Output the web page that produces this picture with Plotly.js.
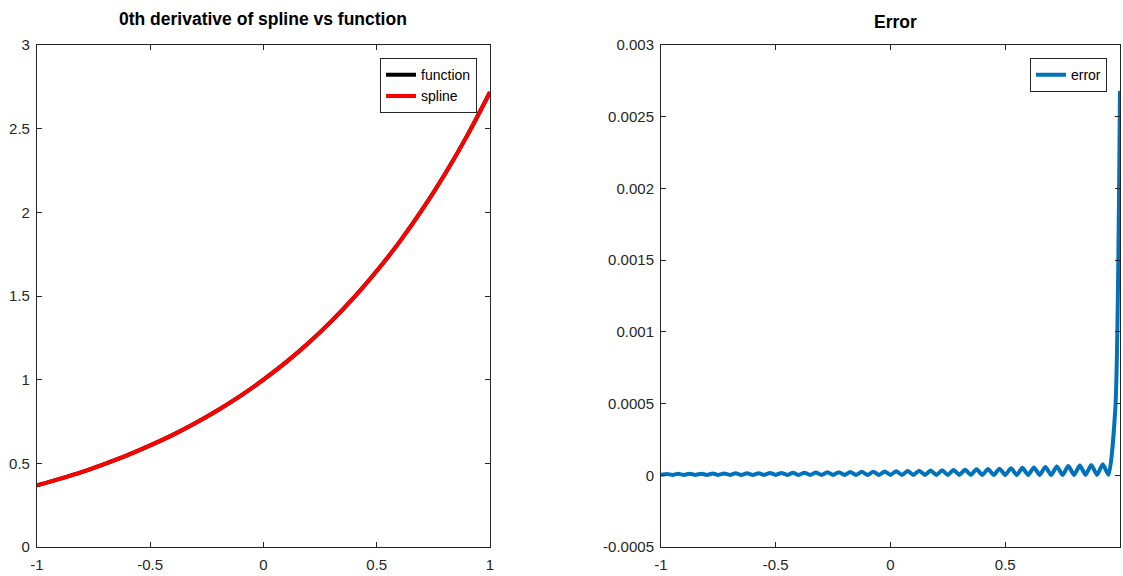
<!DOCTYPE html>
<html>
<head>
<meta charset="utf-8">
<script src="https://cdn.plot.ly/plotly-3.0.1.min.js"></script>
<style>html,body{margin:0;padding:0;background:#fff;}#chart{width:1123px;height:576px;}</style>
</head>
<body>
<div id="chart"></div>
<script>
// Left panel: function and spline (0th derivative)
const xFn = [-1,-0.9,-0.8,-0.7,-0.6,-0.5,-0.4,-0.3,-0.2,-0.1,0,0.1,0.2,0.3,0.4,0.5,0.6,0.7,0.8,0.9,1];
const yFunction = [0.368,0.407,0.449,0.497,0.549,0.607,0.670,0.741,0.819,0.905,1.000,1.105,1.221,1.350,1.492,1.649,1.822,2.014,2.226,2.460,2.718];
const ySpline = [0.368,0.407,0.449,0.497,0.549,0.607,0.670,0.741,0.819,0.905,1.000,1.105,1.221,1.350,1.492,1.649,1.822,2.014,2.226,2.460,2.718];

// Right panel: error
const xErr = [-1,-0.975,-0.95,-0.925,-0.9,-0.875,-0.85,-0.825,-0.8,-0.775,-0.75,-0.725,-0.7,-0.675,-0.65,-0.625,-0.6,-0.575,-0.55,-0.525,-0.5,-0.475,-0.45,-0.425,-0.4,-0.375,-0.35,-0.325,-0.3,-0.275,-0.25,-0.225,-0.2,-0.175,-0.15,-0.125,-0.1,-0.075,-0.05,-0.025,0,0.025,0.05,0.075,0.1,0.125,0.15,0.175,0.2,0.225,0.25,0.275,0.3,0.325,0.35,0.375,0.4,0.425,0.45,0.475,0.5,0.525,0.55,0.575,0.6,0.625,0.65,0.675,0.7,0.725,0.75,0.775,0.8,0.825,0.85,0.875,0.9,0.925,0.95,0.98,1];
const yErr = [3e-6,1.0e-5,3e-6,1.05e-5,3e-6,1.1e-5,3e-6,1.15e-5,3e-6,1.2e-5,3e-6,1.3e-5,3e-6,1.35e-5,3e-6,1.4e-5,3e-6,1.5e-5,3e-6,1.6e-5,3e-6,1.65e-5,3e-6,1.75e-5,3e-6,1.85e-5,3e-6,1.95e-5,3e-6,2.05e-5,3e-6,2.15e-5,3e-6,2.3e-5,3e-6,2.4e-5,3e-6,2.55e-5,3e-6,2.7e-5,3e-6,2.85e-5,3e-6,3.0e-5,3e-6,3.15e-5,3e-6,3.35e-5,3e-6,3.55e-5,3e-6,3.75e-5,3e-6,3.95e-5,3e-6,4.15e-5,3e-6,4.4e-5,3e-6,4.65e-5,3e-6,4.9e-5,3e-6,5.2e-5,3e-6,5.5e-5,3e-6,5.8e-5,3e-6,6.1e-5,3e-6,6.45e-5,3e-6,6.85e-5,3e-6,7.25e-5,3e-6,7.7e-5,3e-6,4.7e-4,2.68e-3];

// Tick labels
const xTickVals = [-1,-0.5,0,0.5,1];
const xTickText = ["-1","-0.5","0","0.5","1"];
const yLeftTickVals = [0,0.5,1,1.5,2,2.5,3];
const yLeftTickText = ["0","0.5","1","1.5","2","2.5","3"];
const yRightTickVals = [-0.0005,0,0.0005,0.001,0.0015,0.002,0.0025,0.003];
const yRightTickText = ["-0.0005","0","0.0005","0.001","0.0015","0.002","0.0025","0.003"];

const FONT = "Liberation Sans, Arial, Helvetica, sans-serif";
const AX = '#262626';

const traces = [
  {x: xFn, y: yFunction, name: 'function', mode: 'lines', line: {color: '#000000', width: 4, shape: 'spline'}, xaxis: 'x', yaxis: 'y', legend: 'legend'},
  {x: xFn, y: ySpline, name: 'spline', mode: 'lines', line: {color: '#ff0000', width: 4, shape: 'spline'}, xaxis: 'x', yaxis: 'y', legend: 'legend'},
  {x: xErr, y: yErr, name: 'error', mode: 'lines', line: {color: '#0072bd', width: 4, shape: 'spline', smoothing: 0.6}, xaxis: 'x2', yaxis: 'y2', legend: 'legend2'}
];

function axisBase(extra) {
  return Object.assign({
    showline: true, linecolor: AX, linewidth: 1, mirror: 'ticks',
    ticks: 'inside', ticklen: 5, tickcolor: AX, tickwidth: 1,
    showgrid: false, zeroline: false, automargin: false,
    tickfont: {family: FONT, size: 15, color: AX},
    tickmode: 'array', fixedrange: true
  }, extra);
}

const legendBase = {
  font: {family: FONT, size: 14, color: '#000'},
  bgcolor: '#ffffff', bordercolor: AX, borderwidth: 1,
  xanchor: 'right', yanchor: 'top', tracegroupgap: 0
};

const layout = {
  width: 1123, height: 576, autosize: false,
  margin: {l: 0, r: 0, t: 0, b: 0},
  paper_bgcolor: '#ffffff', plot_bgcolor: '#ffffff',
  showlegend: true,
  xaxis: axisBase({domain: [0.0329, 0.4363], range: [-1, 1], tickvals: xTickVals, ticktext: xTickText, anchor: 'y', ticklabelstandoff: 4}),
  yaxis: axisBase({domain: [0.0503, 0.9219], range: [0, 3], tickvals: yLeftTickVals, ticktext: yLeftTickText, anchor: 'x', ticklabelstandoff: 3}),
  xaxis2: axisBase({domain: [0.5886, 0.9973], range: [-1, 1], tickvals: xTickVals, ticktext: xTickText, anchor: 'y2', ticklabelstandoff: 4}),
  yaxis2: axisBase({domain: [0.0503, 0.9219], range: [-0.0005, 0.003], tickvals: yRightTickVals, ticktext: yRightTickText, anchor: 'x2', ticklabelstandoff: 3}),
  legend: Object.assign({}, legendBase, {x: 0.4248, y: 0.899}),
  legend2: Object.assign({}, legendBase, {x: 0.9857, y: 0.899}),
  annotations: [
    {text: '<b>0th derivative of spline vs function</b>', xref: 'x domain', yref: 'paper', x: 0.5, y: 0.967, xanchor: 'center', yanchor: 'middle', showarrow: false, font: {family: FONT, size: 17.5, color: '#000'}},
    {text: '<b>Error</b>', xref: 'x2 domain', yref: 'paper', x: 0.51, y: 0.962, xanchor: 'center', yanchor: 'middle', showarrow: false, font: {family: FONT, size: 17.5, color: '#000'}}
  ]
};

Plotly.newPlot('chart', traces, layout, {staticPlot: true, displayModeBar: false});
</script>
</body>
</html>
